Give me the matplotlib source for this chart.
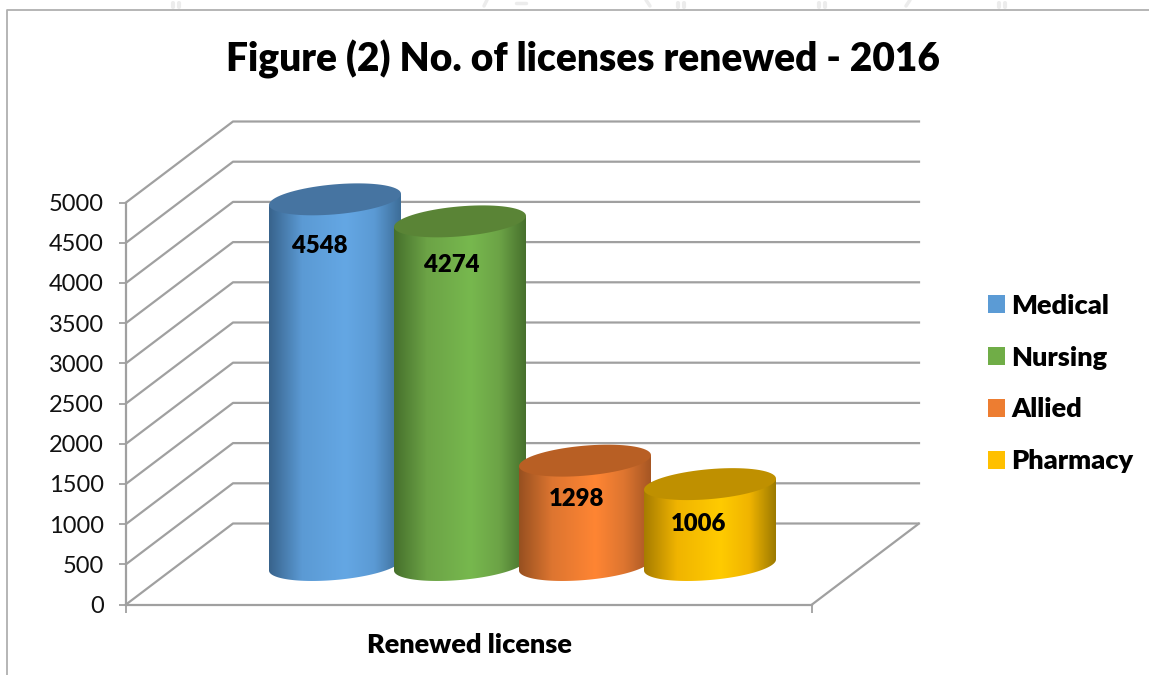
import numpy as np
import matplotlib
matplotlib.use("Agg")
import matplotlib.pyplot as plt
from matplotlib.colors import LinearSegmentedColormap
from matplotlib.patches import Patch, PathPatch, Polygon
from matplotlib.path import Path

plt.rcParams["font.family"] = ["Lato", "DejaVu Sans"]

categories = ["Medical", "Nursing", "Allied", "Pharmacy"]
values = [4548, 4274, 1298, 1006]
y_ticks = [0, 500, 1000, 1500, 2000, 2500, 3000, 3500, 4000, 4500, 5000]
group_label = "Renewed license"
title = "Figure (2) No. of licenses renewed - 2016"

FIG_W, FIG_H = 1149, 675
GRAY = "#a0a0a0"
HEAVY = "heavy"

# plot box in pixels, x axis counts pixels from the y axis
FRONT_W = 686
DEPTH_X = 107
PX_PER_UNIT = 402 / 5000
DEPTH_Y = 81 / PX_PER_UNIT
BASE = 39.5 / PX_PER_UNIT
BAR_W = 132
BAR_START = 143
BAR_STEP = 125

side_colors = [
    ["#38638c", "#5b9ad4", "#64a7e4", "#5b9ad4", "#3d6d98"],
    ["#46702c", "#6ca346", "#77b84e", "#6ca346", "#47702d"],
    ["#975020", "#dd7530", "#ff8533", "#dd7530", "#a65623"],
    ["#a67c00", "#f0b400", "#ffcb00", "#f0b400", "#9c7a00"],
]
top_colors = ["#4674a1", "#5a8436", "#b85f24", "#bf9000"]
legend_colors = ["#5b9bd5", "#70ad47", "#ed7d31", "#ffc000"]
label_nudge = [(-15, -47), (-8, -44), (-8, -38), (-12, -40)]

fig = plt.figure(figsize=(FIG_W / 100, FIG_H / 100), dpi=100)
ax = fig.add_axes([126 / FIG_W, (FIG_H - 604.5) / FIG_H,
                   (FRONT_W + DEPTH_X) / FIG_W, (81 + 402) / FIG_H])
ax.set_xlim(0, FRONT_W + DEPTH_X)
ax.set_ylim(0, 5000 + DEPTH_Y)
ax.patch.set_alpha(0)


def draw_walls():
    for v in y_ticks:
        ax.plot([0, DEPTH_X, FRONT_W + DEPTH_X], [v, v + DEPTH_Y, v + DEPTH_Y],
                color=GRAY, lw=1.6, zorder=1, clip_on=False)
    ax.plot([FRONT_W, FRONT_W + DEPTH_X], [0, DEPTH_Y], color=GRAY, lw=1.6, zorder=1)


def cylinder_edge(cx, cy, start, stop):
    t = np.linspace(start, stop, 80)
    x = cx + BAR_W / 2 * np.cos(t)
    y = cy + (15 * np.sin(t) + 5.5 * np.cos(t)) / PX_PER_UNIT
    return np.column_stack([x, y])


def draw_cylinder(i, value):
    left = BAR_START + i * BAR_STEP
    cx = left + BAR_W / 2
    top = BASE + value
    z = 3 + i

    lower = cylinder_edge(cx, BASE, np.pi, 2 * np.pi)
    upper = [[left + BAR_W, top + 5.5 / PX_PER_UNIT], [left, top - 5.5 / PX_PER_UNIT]]
    body = np.vstack([lower, upper, lower[:1]])
    path = Path(body)

    cmap = LinearSegmentedColormap.from_list(
        "side", list(zip([0, 0.25, 0.58, 0.8, 1], side_colors[i])))
    img = ax.imshow(np.linspace(0, 1, 256).reshape(1, -1), cmap=cmap, aspect="auto",
                    extent=[left, left + BAR_W, body[:, 1].min(), body[:, 1].max()],
                    zorder=z)
    img.set_clip_path(PathPatch(path, transform=ax.transData))

    cap = cylinder_edge(cx, top, 0, 2 * np.pi)
    ax.add_patch(Polygon(cap, closed=True, facecolor=top_colors[i], edgecolor="none", zorder=z))

    dx, dy = label_nudge[i]
    ax.text(cx + dx, top + dy / PX_PER_UNIT, str(value), ha="center", va="center",
            fontsize=17.2, fontweight=HEAVY, color="black", zorder=20)


draw_walls()
for i, value in enumerate(values):
    draw_cylinder(i, value)
ax.set_xlim(0, FRONT_W + DEPTH_X)
ax.set_ylim(0, 5000 + DEPTH_Y)

for side in ["top", "right"]:
    ax.spines[side].set_visible(False)
ax.spines["left"].set_bounds(0, 5000)
ax.spines["bottom"].set_bounds(0, FRONT_W)
for side in ["left", "bottom"]:
    ax.spines[side].set_color(GRAY)
    ax.spines[side].set_linewidth(1.6)
ax.set_yticks(y_ticks)
ax.set_yticklabels([str(v) for v in y_ticks], fontsize=17, color="#111111")
ax.tick_params(axis="y", length=5, width=1.3, color=GRAY, pad=11)
ax.set_xticks([0, FRONT_W])
ax.set_xticklabels([])
ax.tick_params(axis="x", length=6, width=1.3, color=GRAY)
ax.set_xlabel(group_label, fontsize=19.5, fontweight=HEAVY)
ax.xaxis.set_label_coords((FRONT_W / 2) / (FRONT_W + DEPTH_X), -0.059)

fig.text(583 / FIG_W, 1 - 59 / FIG_H, title, ha="center", va="center",
         fontsize=28, fontweight=HEAVY)

handles = [Patch(facecolor=c, edgecolor="none") for c in legend_colors]
fig.legend(handles, categories, loc="center left", bbox_to_anchor=(988 / FIG_W, 1 - 383.5 / FIG_H),
           frameon=False, prop={"size": 19.5, "weight": HEAVY}, handlelength=0.63,
           handleheight=0.63, handletextpad=0.22, labelspacing=1.03, borderpad=0, borderaxespad=0)

# outer chart frame, cut off by the page
fig.add_artist(plt.Line2D([7 / FIG_W, 7 / FIG_W, 1], [0, 1 - 10 / FIG_H, 1 - 10 / FIG_H],
                          color="#b0b0b0", lw=1.3))

# faint watermark leftovers along the top edge
for x in [176, 681, 822, 1002]:
    for dx in (-3, 3):
        fig.add_artist(plt.Line2D([(x + dx) / FIG_W] * 2, [1 - 3 / FIG_H, 1 - 7 / FIG_H],
                                  color="#ececec", lw=3, solid_capstyle="round"))
for x0, x1, y0, y1 in [(487, 484, 0, 6), (910, 906, 0, 6), (646, 650, 0, 6), (516, 526, 3, 3)]:
    fig.add_artist(plt.Line2D([x0 / FIG_W, x1 / FIG_W], [1 - y0 / FIG_H, 1 - y1 / FIG_H],
                              color="#ececec", lw=2.5, solid_capstyle="round"))

fig.savefig("out.png", dpi=100)
